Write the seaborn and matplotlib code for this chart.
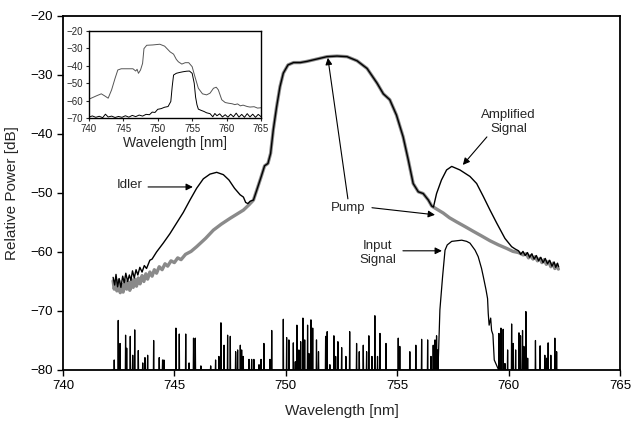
import numpy as np
import matplotlib
matplotlib.use("Agg")
import matplotlib.pyplot as plt
import seaborn as sns

# shared pump region (both traces overlap here)
pump_wl = [748.55, 748.7, 748.9, 749.05, 749.2, 749.32, 749.44, 749.59, 749.74, 749.89,
           750.1, 750.35, 750.65, 750.95, 751.4, 751.85, 752.3, 752.75, 753.2, 753.65,
           754.1, 754.38, 754.67, 754.97, 755.27, 755.5, 755.72, 755.95, 756.17, 756.4,
           756.55, 756.63]
pump_db = [-51.2, -49.5, -47.2, -45.4, -45.0, -43.3, -39.3, -35.4, -32.0, -29.7,
           -28.3, -27.9, -27.9, -27.7, -27.3, -26.9, -26.8, -26.9, -27.6, -28.9,
           -31.4, -33.2, -34.2, -36.8, -40.5, -44.4, -48.4, -49.8, -50.1, -51.2,
           -52.2, -52.4]

# pump only (grey) wings
grey_left_wl = [742.25, 742.3, 742.36, 742.42, 742.5, 742.57, 742.64, 742.7, 742.78, 742.86,
                742.93, 743.0, 743.08, 743.15, 743.22, 743.3, 743.38, 743.46, 743.55, 743.63,
                743.72, 743.8, 743.9, 744.0, 744.1, 744.2, 744.32, 744.45, 744.58, 744.7,
                744.85, 745.0, 745.15, 745.3, 745.5, 745.75, 746.0, 746.4, 746.75, 747.1,
                747.5, 747.8, 748.1, 748.35]
grey_left_db = [-64.9, -66.3, -65.0, -66.6, -64.8, -66.9, -65.5, -66.8, -64.9, -66.3,
                -65.1, -66.5, -64.7, -66.0, -64.6, -65.8, -64.4, -65.4, -64.0, -65.0,
                -63.7, -64.6, -63.4, -64.1, -63.0, -63.6, -62.5, -63.0, -62.0, -62.4,
                -61.5, -61.8, -61.0, -61.3, -60.4, -59.9, -59.1, -57.7, -56.3, -55.3,
                -54.3, -53.6, -52.9, -52.0]
grey_right_wl = [756.85, 757.07, 757.35, 757.67, 758.05, 758.42, 758.8, 759.17, 759.55, 759.92,
                 760.2, 760.45, 760.66, 760.8, 760.9, 761.0, 761.1, 761.2, 761.3, 761.41,
                 761.5, 761.6, 761.7, 761.8, 761.9, 762.0, 762.08, 762.15, 762.24]
grey_right_db = [-52.9, -53.4, -54.2, -54.9, -55.7, -56.5, -57.3, -58.1, -58.8, -59.4,
                 -59.9, -60.1, -60.5, -60.3, -61.0, -60.6, -61.2, -60.8, -61.5, -61.1,
                 -61.8, -61.3, -62.1, -61.6, -62.5, -61.9, -62.8, -62.2, -62.9]

# pump + signal (black) wings: idler and amplified signal
black_left_wl = [742.25, 742.32, 742.38, 742.45, 742.52, 742.6, 742.68, 742.75, 742.82, 742.9,
                 742.98, 743.05, 743.12, 743.2, 743.28, 743.36, 743.45, 743.55, 743.65, 743.75,
                 743.9, 744.0, 744.2, 744.5, 744.8, 745.1, 745.4, 745.7, 746.0, 746.3,
                 746.6, 746.9, 747.2, 747.45, 747.7, 747.95, 748.1, 748.2, 748.3, 748.4]
black_left_db = [-64.3, -65.6, -63.8, -65.9, -64.5, -66.0, -64.1, -65.2, -63.6, -65.0,
                 -63.9, -64.8, -63.2, -64.4, -63.0, -63.9, -62.6, -63.4, -62.3, -62.8,
                 -61.4, -61.2, -60.0, -58.5, -56.9, -55.1, -53.3, -51.2, -49.2, -47.6,
                 -46.8, -46.5, -46.9, -47.8, -49.2, -50.3, -50.7, -51.6, -51.8, -51.4]
black_right_wl = [756.77, 756.99, 757.22, 757.45, 757.82, 758.27, 758.57, 758.87, 759.17, 759.47,
                  759.84, 760.14, 760.3, 760.45, 760.55, 760.65, 760.75, 760.85, 760.95, 761.05,
                  761.15, 761.25, 761.35, 761.45, 761.55, 761.65, 761.75, 761.85, 761.95, 762.05,
                  762.12, 762.2, 762.25]
black_right_db = [-50.1, -47.8, -46.1, -45.5, -46.1, -47.2, -48.4, -50.6, -52.9, -55.1,
                  -57.7, -59.1, -59.5, -59.8, -60.4, -59.9, -60.6, -60.1, -60.9, -60.3,
                  -61.2, -60.6, -61.5, -60.9, -61.8, -61.1, -62.0, -61.4, -62.4, -61.7,
                  -62.6, -61.9, -62.5]

# input signal: noise spikes above the -80 dB floor, plus the signal band
spike_wl = [742.30, 742.48, 742.56, 742.81, 742.86, 743.02, 743.13, 743.22, 743.38, 743.58,
            743.68, 743.80, 744.07, 744.32, 744.47, 744.53, 745.07, 745.22, 745.51, 745.66,
            745.86, 745.94, 746.19, 746.63, 746.85, 747.00, 747.09, 747.23, 747.39, 747.51,
            747.75, 747.84, 747.96, 748.02, 748.09, 748.35, 748.47, 748.57, 748.80, 748.89,
            749.02, 749.29, 749.37, 749.89, 750.04, 750.14, 750.34, 750.43, 750.50, 750.59,
            750.67, 750.77, 750.85, 750.98, 751.04, 751.13, 751.21, 751.38, 751.47, 751.79,
            751.86, 751.98, 752.16, 752.24, 752.34, 752.51, 752.70, 752.87, 753.18, 753.30,
            753.48, 753.63, 753.73, 753.87, 754.00, 754.12, 754.23, 754.50, 755.05, 755.12,
            755.57, 755.84, 756.10, 756.37, 756.52, 756.62, 756.70, 756.77, 756.82]
spike_db = [-78.3, -71.6, -75.5, -74.1, -76.3, -74.3, -77.5, -73.2, -76.7, -78.8,
            -77.9, -77.5, -75.0, -77.9, -78.3, -78.3, -72.9, -73.9, -73.9, -78.8,
            -74.6, -74.6, -79.3, -79.3, -78.3, -77.7, -72.0, -75.8, -74.1, -74.3,
            -76.9, -76.6, -75.8, -76.6, -77.7, -78.2, -78.2, -78.2, -79.1, -78.2,
            -75.5, -78.2, -73.3, -71.4, -74.5, -74.9, -75.4, -78.6, -72.4, -76.6,
            -75.2, -71.2, -74.9, -72.4, -77.2, -71.5, -72.9, -74.9, -76.9, -74.3,
            -73.5, -79.1, -74.2, -77.7, -75.2, -76.2, -77.7, -73.5, -75.5, -76.9,
            -75.8, -76.9, -74.2, -77.7, -70.8, -77.7, -73.8, -75.5, -74.6, -76.0,
            -76.9, -75.8, -74.8, -74.9, -77.7, -75.8, -74.9, -74.2, -76.6]
band_wl = [756.86, 756.92, 757.04, 757.15, 757.25, 757.45, 757.67, 757.9, 758.12, 758.27,
           758.5, 758.64, 758.79, 758.87, 758.99, 759.06, 759.09, 759.13, 759.2, 759.24,
           759.3, 759.36]
band_db = [-77.0, -69.8, -64.2, -59.7, -58.8, -58.2, -58.1, -58.0, -58.2, -58.5,
           -59.7, -60.8, -62.8, -64.2, -66.4, -67.9, -70.4, -72.4, -71.2, -73.3,
           -74.0, -78.3]
spike2_wl = [759.57, 759.66, 759.76, 759.84, 759.96, 760.14, 760.21, 760.32, 760.47, 760.54,
             760.63, 760.69, 760.78, 760.86, 761.21, 761.42, 761.63, 761.71, 761.78, 761.90,
             762.08, 762.16]
spike2_db = [-73.8, -72.9, -73.1, -78.9, -76.6, -72.2, -75.5, -76.6, -73.7, -74.2,
             -73.3, -76.0, -70.1, -78.0, -75.0, -75.9, -77.5, -78.0, -75.4, -77.5,
             -74.6, -76.9]

# inset: full-range spectra
inset_a_wl = [740.0, 741.07, 741.8, 742.3, 742.8, 743.3, 743.8, 744.2, 744.7, 745.7,
              746.4, 746.8, 747.0, 747.2, 747.5, 747.8, 748.0, 748.4, 749.3, 750.3,
              751.0, 751.8, 752.3, 752.7, 753.0, 753.5, 754.0, 754.5, 755.0, 755.4,
              755.9, 756.5, 757.1, 757.6, 758.1, 758.5, 758.8, 759.3, 759.8, 760.3,
              760.8, 761.2, 761.6, 762.0, 762.4, 763.0, 763.4, 764.0, 764.5, 765.0]
inset_a_db = [-59.2, -57.3, -56.1, -57.3, -58.6, -53.8, -47.2, -42.4, -41.7, -41.7,
              -41.7, -43.0, -42.0, -44.3, -42.4, -38.6, -30.1, -28.2, -28.0, -27.6,
              -28.7, -32.0, -33.3, -36.3, -37.7, -39.0, -38.2, -38.2, -40.5, -46.2,
              -52.9, -56.1, -56.7, -55.7, -52.9, -52.3, -53.8, -59.5, -61.1, -61.5,
              -61.8, -62.3, -61.9, -63.0, -62.6, -63.4, -63.7, -63.5, -64.3, -64.1]
inset_b_wl = [740.0, 740.5, 741.0, 741.5, 742.0, 742.4, 742.8, 743.3, 743.8, 744.3,
              744.8, 745.3, 745.8, 746.3, 746.8, 747.3, 747.8, 748.3, 748.8, 749.2,
              749.6, 750.0, 750.5, 751.0, 751.5, 751.9, 752.1, 752.3, 752.7, 753.2,
              753.7, 754.2, 754.6, 755.0, 755.3, 755.5, 755.7, 755.9, 756.3, 756.7,
              757.1, 757.6, 758.0, 758.3, 758.6, 759.0, 759.4, 759.8, 760.2, 760.6,
              761.0, 761.4, 761.8, 762.2, 762.6, 763.0, 763.4, 763.8, 764.2, 764.6, 765.0]
inset_b_db = [-69.5, -68.8, -69.6, -69.0, -69.8, -67.8, -69.4, -68.9, -69.7, -69.1,
              -69.6, -68.7, -69.5, -68.5, -69.2, -68.3, -68.9, -67.9, -68.1, -66.6,
              -66.8, -65.0, -64.6, -63.8, -63.4, -60.5, -52.0, -45.3, -44.3, -43.8,
              -43.4, -43.1, -43.0, -44.3, -50.0, -58.0, -62.4, -64.9, -65.6, -66.2,
              -67.0, -67.5, -69.3, -67.4, -68.7, -67.6, -69.4, -68.1, -69.5, -67.8,
              -69.3, -67.2, -69.5, -67.9, -69.6, -67.5, -69.4, -67.8, -69.6, -67.9, -69.2]

# annotation labels: text, text position, arrow tail, arrow head
labels = ["Idler", "Pump", "", "Amplified\nSignal", "Input\nSignal"]
label_pos = [(743.0, -48.6), (752.8, -52.5), None, (760.0, -38.0), (754.14, -60.2)]
arrow_from = [(743.82, -48.98), (752.79, -51.0), (753.87, -52.5), (759.03, -40.5), (755.26, -59.8)]
arrow_to = [(745.83, -48.98), (751.89, -27.1), (756.70, -53.7), (757.95, -45.25), (757.01, -59.8)]

sns.set_style("ticks")
plt.rcParams["font.family"] = ["Liberation Sans", "DejaVu Sans"]

grey_wl = grey_left_wl + pump_wl + grey_right_wl
grey_db = grey_left_db + pump_db + grey_right_db
black_wl = black_left_wl + pump_wl + black_right_wl
black_db = black_left_db + pump_db + black_right_db


def spikes(wls, dbs):
    xs, ys = [], []
    for w, d in zip(wls, dbs):
        xs += [w - 0.012, w, w + 0.012]
        ys += [-80, d, -80]
    return xs, ys


sx1, sy1 = spikes(spike_wl, spike_db)
sx2, sy2 = spikes(spike2_wl, spike2_db)
input_wl = [742.2] + sx1 + band_wl + sx2 + [762.25]
input_db = [-80] + sy1 + band_db + sy2 + [-80]

fig = plt.figure(figsize=(6.35, 4.23), dpi=100)
ax = fig.add_axes([0.0992, 0.1253, 0.877, 0.837])

sns.lineplot(x=grey_wl, y=grey_db, ax=ax, color="#8a8a8a", lw=2.4, sort=False, estimator=None)
sns.lineplot(x=black_wl, y=black_db, ax=ax, color="black", lw=1.0, sort=False, estimator=None)
sns.lineplot(x=input_wl, y=input_db, ax=ax, color="black", lw=0.9, sort=False, estimator=None)

ax.set_xlim(740, 765)
ax.set_ylim(-80, -20)
ax.set_xticks([740, 745, 750, 755, 760, 765])
ax.set_yticks([-80, -70, -60, -50, -40, -30, -20])
ax.set_xlabel("Wavelength [nm]", fontsize=11)
ax.set_ylabel("Relative Power [dB]", fontsize=11)
ax.tick_params(labelsize=9.5, direction="out", length=4, width=1, colors="black")
ax.xaxis.labelpad = 8
ax.yaxis.labelpad = 8
for s in ax.spines.values():
    s.set_visible(True)
    s.set_linewidth(1.3)
    s.set_color("black")

for text, pos in zip(labels, label_pos):
    if pos is not None:
        ax.text(pos[0], pos[1], text, fontsize=9.5, ha="center", va="center")
for start, end in zip(arrow_from, arrow_to):
    ax.annotate("", xy=end, xytext=start,
                arrowprops=dict(arrowstyle="-|>", color="black", lw=0.8,
                                mutation_scale=10, shrinkA=0, shrinkB=0))

# inset
ins = fig.add_axes([0.140, 0.721, 0.271, 0.2057])
sns.lineplot(x=inset_a_wl, y=inset_a_db, ax=ins, color="#555555", lw=0.7, sort=False, estimator=None)
sns.lineplot(x=inset_b_wl, y=inset_b_db, ax=ins, color="black", lw=0.7, sort=False, estimator=None)
ins.set_xlim(740, 765)
ins.set_ylim(-70, -20)
ins.set_xticks([740, 745, 750, 755, 760, 765])
ins.set_yticks([-70, -60, -50, -40, -30, -20])
ins.tick_params(labelsize=7, direction="out", length=2, width=0.8, pad=2)
ins.set_xlabel("Wavelength [nm]", fontsize=10, labelpad=2)
for s in ins.spines.values():
    s.set_visible(True)
    s.set_linewidth(1.0)
    s.set_color("black")

fig.savefig("out.png", dpi=100)
